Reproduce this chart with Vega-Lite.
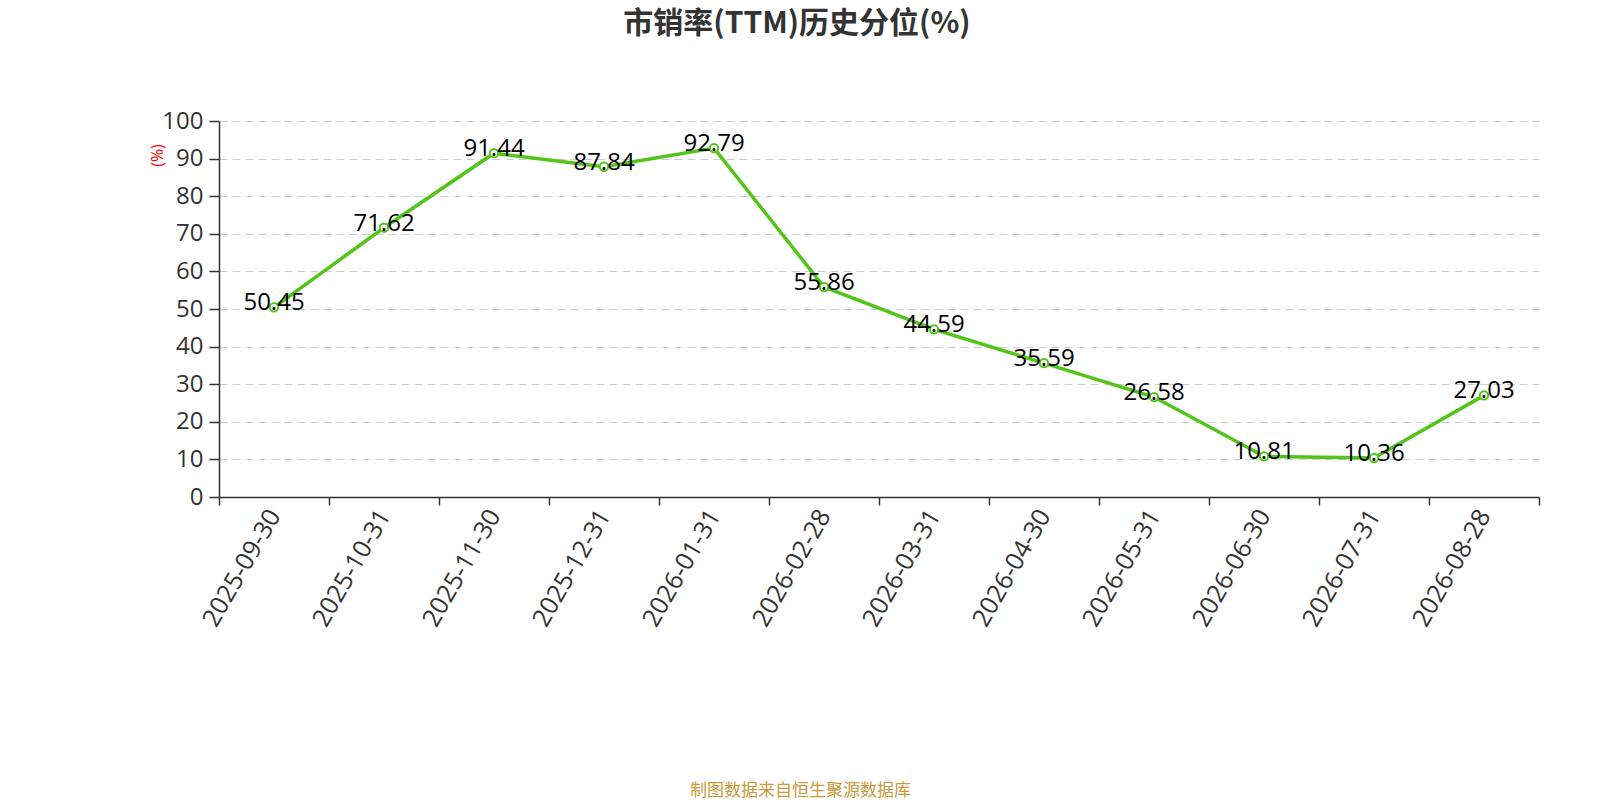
{
  "$schema": "https://vega.github.io/schema/vega-lite/v6.json",
  "width": 1320,
  "height": 376,
  "autosize": "none",
  "padding": {"left": 219, "top": 121, "right": 61, "bottom": 303},
  "background": "white",
  "title": {
    "text": "市销率(TTM)历史分位(%)",
    "frame": "group",
    "anchor": "middle",
    "baseline": "middle",
    "offset": 55,
    "dx": -82,
    "font": "Noto Sans CJK SC",
    "fontSize": 30,
    "fontWeight": "bold",
    "color": "#333333"
  },
  "data": {
    "values": [
      {"date": "2025-09-30", "pct": 50.45},
      {"date": "2025-10-31", "pct": 71.62},
      {"date": "2025-11-30", "pct": 91.44},
      {"date": "2025-12-31", "pct": 87.84},
      {"date": "2026-01-31", "pct": 92.79},
      {"date": "2026-02-28", "pct": 55.86},
      {"date": "2026-03-31", "pct": 44.59},
      {"date": "2026-04-30", "pct": 35.59},
      {"date": "2026-05-31", "pct": 26.58},
      {"date": "2026-06-30", "pct": 10.81},
      {"date": "2026-07-31", "pct": 10.36},
      {"date": "2026-08-28", "pct": 27.03}
    ]
  },
  "encoding": {
    "x": {
      "field": "date",
      "type": "ordinal",
      "sort": null,
      "bandPosition": 0.5,
      "scale": {"type": "band", "paddingInner": 0, "paddingOuter": 0},
      "axis": {
        "title": "制图数据来自恒生聚源数据库",
        "titleX": 581,
        "titleY": 293,
        "titleAlign": "center",
        "titleBaseline": "middle",
        "titleFont": "Noto Sans CJK SC",
        "titleFontSize": 17,
        "titleFontWeight": "normal",
        "titleColor": "#c9993a",
        "tickBand": "extent",
        "labelAngle": -60,
        "labelAlign": "right",
        "labelBaseline": "middle",
        "labelFont": "Open Sans",
        "labelFontSize": 25,
        "labelColor": "#333333",
        "labelPadding": 6,
        "tickSize": 8,
        "tickColor": "#333333",
        "domainColor": "#333333",
        "domainWidth": 1.5,
        "tickWidth": 1.5,
        "grid": false
      }
    },
    "y": {
      "field": "pct",
      "type": "quantitative",
      "scale": {"domain": [0, 100], "nice": false},
      "axis": {
        "title": "(%)",
        "titleX": -62,
        "titleY": 34,
        "titleAlign": "center",
        "titleBaseline": "middle",
        "titleColor": "red",
        "titleFont": "Open Sans",
        "titleFontSize": 16,
        "titleFontWeight": "normal",
        "values": [0, 10, 20, 30, 40, 50, 60, 70, 80, 90, 100],
        "labelFont": "Open Sans",
        "labelFontSize": 24,
        "labelColor": "#333333",
        "labelPadding": 6,
        "tickSize": 10,
        "tickColor": "#333333",
        "domainColor": "#333333",
        "domainWidth": 1.5,
        "tickWidth": 1.5,
        "grid": true,
        "gridColor": "#cccccc",
        "gridDash": [8, 5],
        "gridWidth": 1.2
      }
    }
  },
  "layer": [
    {"mark": {"type": "line", "color": "#52c41a", "strokeWidth": 3.5}},
    {
      "mark": {
        "type": "point",
        "shape": "circle",
        "filled": true,
        "fill": "white",
        "stroke": "#52c41a",
        "strokeWidth": 2,
        "size": 70,
        "opacity": 1
      }
    },
    {
      "mark": {
        "type": "text",
        "align": "center",
        "baseline": "middle",
        "dy": -4,
        "font": "Open Sans",
        "fontSize": 24,
        "color": "#000000"
      },
      "encoding": {"text": {"field": "pct", "type": "quantitative", "format": ".2f"}}
    }
  ],
  "config": {"view": {"stroke": null}}
}
